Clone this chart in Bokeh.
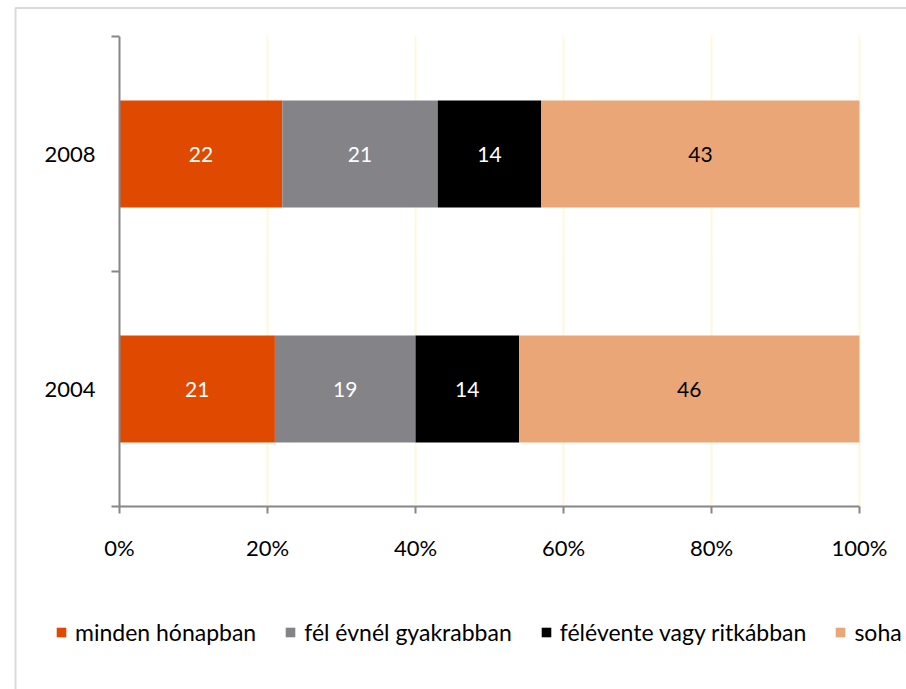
from bokeh.plotting import figure
from bokeh.models import (Range1d, FixedTicker, PrintfTickFormatter, Legend, LegendItem,
                          ColumnDataSource, BoxAnnotation)
from bokeh.core.properties import value
from bokeh.embed import file_html
from bokeh.resources import INLINE

# ---- data ----
years = ["2004", "2008"]
series_names = ["minden hónapban", "fél évnél gyakrabban", "félévente vagy ritkábban", "soha"]
minden = [21, 22]
fel_ev = [19, 21]
felevente = [14, 14]
soha = [46, 43]
x_ticks = [0, 20, 40, 60, 80, 100]

colors = ["#e04a00", "#848388", "#000000", "#eba677"]
label_colors = ["white", "white", "white", "black"]
FONT = "Lato"
AXIS_COLOR = "#86868b"

series = [minden, fel_ev, felevente, soha]
ypos = [i + 0.5 for i in range(len(years))]
n = len(years)

# layout (page pixels) -> frame spans the whole canvas
W, H = 906, 689
CANVAS_LEFT, CANVAS_TOP = 0, 0
px_per_x = 7.4     # 740 px for 0..100 %
px_per_y = 235.0   # one category band
x_start = (CANVAS_LEFT - 119) / px_per_x
x_end = 100 + (CANVAS_LEFT + W - 859) / px_per_x
y_end = n + (36 - CANVAS_TOP) / px_per_y
y_start = -(CANVAS_TOP + H - 506) / px_per_y

p = figure(width=W, height=H, output_backend="svg", toolbar_location=None,
           x_range=Range1d(x_start, x_end), y_range=Range1d(y_start, y_end),
           min_border_left=0, min_border_right=0, min_border_top=0, min_border_bottom=0)
p.outline_line_color = None
p.background_fill_color = "white"
p.border_fill_color = "white"

# chart-area border (left and top edges visible)
p.add_layout(BoxAnnotation(left=(15 - 119) / px_per_x, top=n + (36 - 7.5) / px_per_y,
                           right=x_end + 5, bottom=y_start - 5,
                           fill_alpha=0, line_color="#858585", line_width=2))

src = {"y": ypos}
keys = []
for i, s in enumerate(series):
    k = f"s{i}"
    src[k] = s
    keys.append(k)
source = ColumnDataSource(src)

renderers = p.hbar_stack(keys, y="y", height=0.455, color=colors, line_color=None, source=source)

# value labels
for i, s in enumerate(series):
    left = [sum(ser[j] for ser in series[:i]) for j in range(n)]
    mids = [left[j] + s[j] / 2 for j in range(n)]
    ls = ColumnDataSource({"x": mids, "y": ypos, "t": [str(v) for v in s]})
    p.text(x="x", y="y", text="t", source=ls, text_align="center", text_baseline="middle",
           text_color=label_colors[i], text_font=value(FONT), text_font_size="21px")

# grid
p.ygrid.visible = False
p.xgrid.ticker = FixedTicker(ticks=x_ticks[1:])
p.xgrid.grid_line_color = "#fff8da"
p.xgrid.grid_line_width = 2
p.xgrid.cross_bounds = (0, n)

# x axis
xa = p.xaxis[0]
xa.fixed_location = 0
xa.bounds = (0, 100)
xa.ticker = FixedTicker(ticks=x_ticks)
xa.formatter = PrintfTickFormatter(format="%d%%")
xa.axis_line_color = AXIS_COLOR
xa.axis_line_width = 2
xa.major_tick_line_color = AXIS_COLOR
xa.major_tick_line_width = 2
xa.major_tick_out = 7
xa.major_tick_in = 0
xa.minor_tick_line_color = None
xa.major_label_text_font = FONT
xa.major_label_text_font_size = "22px"
xa.major_label_text_color = "black"
xa.major_label_standoff = 20

# y axis
ya = p.yaxis[0]
ya.fixed_location = 0
ya.bounds = (0, n)
ya.ticker = FixedTicker(ticks=ypos, minor_ticks=list(range(n + 1)))
ya.major_label_overrides = {y: lab for y, lab in zip(ypos, years)}
ya.axis_line_color = AXIS_COLOR
ya.axis_line_width = 2
ya.major_tick_line_color = None
ya.major_tick_out = 0
ya.minor_tick_line_color = AXIS_COLOR
ya.minor_tick_line_width = 2
ya.minor_tick_out = 8
ya.minor_tick_in = 0
ya.major_label_text_font = FONT
ya.major_label_text_font_size = "22px"
ya.major_label_text_color = "black"
ya.major_label_standoff = 16

legend = Legend(items=[LegendItem(label=nm, renderers=[r]) for nm, r in zip(series_names, renderers)],
                orientation="horizontal", location=(55 - CANVAS_LEFT, 689 - 646),
                glyph_width=12, glyph_height=12, label_standoff=8, spacing=28,
                padding=0, margin=0, border_line_color=None, background_fill_alpha=0,
                label_text_font=FONT, label_text_font_size="23px", label_text_color="black")
p.add_layout(legend, "center")

open("out.html", "w").write(file_html(p, INLINE))
